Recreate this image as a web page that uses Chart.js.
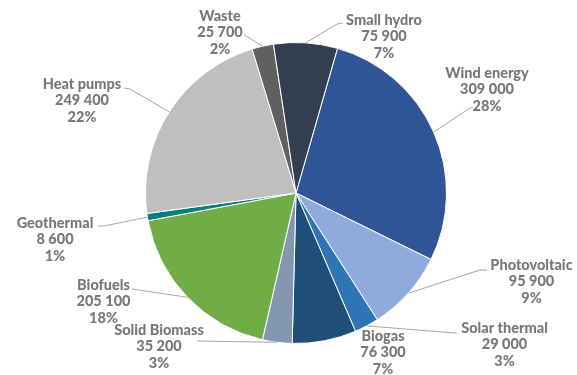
<!DOCTYPE html>
<html>
<head>
<meta charset="utf-8">
<script src="https://cdn.jsdelivr.net/npm/chart.js@4.4.1/dist/chart.umd.min.js"></script>
<style>
  html, body { margin: 0; padding: 0; background: #ffffff; }
  #wrap { width: 577px; height: 375px; position: relative; }
</style>
</head>
<body>
<div id="wrap"><canvas id="pie"></canvas></div>
<script>
// Renewable energy sources: installed amounts per category
const categories = ['Wind energy', 'Photovoltaic', 'Solar thermal', 'Biogas', 'Solid Biomass',
                    'Biofuels', 'Geothermal', 'Heat pumps', 'Waste', 'Small hydro'];
const values = [309000, 95900, 29000, 76300, 35200, 205100, 8600, 249400, 25700, 75900];
const sliceColors = ['#2F5597', '#8FAADC', '#2E75B6', '#1F4E79', '#8497B0',
                     '#70AD47', '#0A7E78', '#BFBFBF', '#606060', '#333F50'];

// Label placement, in pixels relative to the pie centre:
// text = centre of the first text line, elbow / end = leader line path towards the text
const labelLayout = {
  'Wind energy':   { text: [191, -120],   elbow: [174, -85],  end: [177, -85] },
  'Photovoltaic':  { text: [235.5, 72],   elbow: [184, 77],   end: [191, 77] },
  'Solar thermal': { text: [208.5, 135],  elbow: [159, 140],  end: [161, 140] },
  'Biogas':        { text: [87, 143] },
  'Solid Biomass': { text: [-137, 137],   elbow: [-99, 148],  end: [-99, 148] },
  'Biofuels':      { text: [-192.5, 92],  elbow: [-164, 96],  end: [-164, 96] },
  'Geothermal':    { text: [-241, 30],    elbow: [-192, 33],  end: [-198, 33] },
  'Heat pumps':    { text: [-214, -109],  elbow: [-166, -104], end: [-172, -105] },
  'Waste':         { text: [-76, -177],   elbow: [-48, -156], end: [-52, -158] },
  'Small hydro':   { text: [88, -173],    elbow: [41, -169],  end: [47, -170] }
};

const total = values.reduce((a, b) => a + b, 0);
const fmt = v => String(v).replace(/\B(?=(\d{3})+(?!\d))/g, ' ');

const labelPlugin = {
  id: 'sliceLabels',
  afterDatasetsDraw(chart) {
    const ctx = chart.ctx;
    const meta = chart.getDatasetMeta(0);
    ctx.save();
    meta.data.forEach((arc, i) => {
      const p = arc.getProps(['x', 'y', 'startAngle', 'endAngle', 'outerRadius'], true);
      const name = categories[i];
      const lay = labelLayout[name];
      const cx = p.x, cy = p.y;
      if (lay.end) {
        const mid = (p.startAngle + p.endAngle) / 2;
        const ex = cx + Math.cos(mid) * p.outerRadius;
        const ey = cy + Math.sin(mid) * p.outerRadius;
        ctx.beginPath();
        ctx.strokeStyle = '#A6A6A6';
        ctx.lineWidth = 1;
        ctx.moveTo(ex, ey);
        ctx.lineTo(cx + lay.elbow[0], cy + lay.elbow[1]);
        ctx.lineTo(cx + lay.end[0], cy + lay.end[1]);
        ctx.stroke();
      }
      const lines = [name, fmt(values[i]), Math.round(values[i] / total * 100) + '%'];
      ctx.fillStyle = '#787878';
      ctx.font = '900 14.5px Lato, "Open Sans", sans-serif';
      ctx.textAlign = 'center';
      ctx.textBaseline = 'middle';
      lines.forEach((t, k) => {
        ctx.fillText(t, cx + lay.text[0], cy + lay.text[1] + k * 16.5);
      });
    });
    ctx.restore();
  }
};

new Chart(document.getElementById('pie'), {
  type: 'pie',
  data: {
    labels: categories,
    datasets: [{
      data: values,
      backgroundColor: sliceColors,
      borderColor: '#ffffff',
      borderWidth: 1
    }]
  },
  options: {
    responsive: true,
    maintainAspectRatio: false,
    devicePixelRatio: 1,
    animation: false,
    rotation: 16,
    layout: { padding: { top: 42, bottom: 31, left: 15, right: 0 } },
    plugins: {
      legend: { display: false },
      tooltip: { enabled: false }
    }
  },
  plugins: [labelPlugin]
});
</script>
</body>
</html>
